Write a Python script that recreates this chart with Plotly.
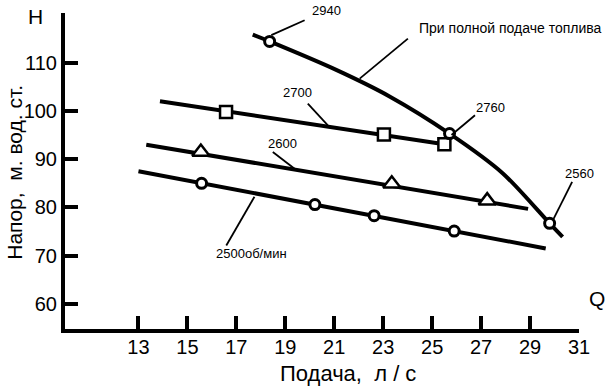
import plotly.graph_objects as go

# ---- data ----
q_2500_line = [13.0, 29.64]
h_2500_line = [87.5, 71.5]
q_2500_pts = [15.58, 20.21, 22.63, 25.9]
h_2500_pts = [85.0, 80.6, 78.3, 75.1]

q_2600_line = [13.32, 28.92]
h_2600_line = [93.0, 79.7]
q_2600_pts = [15.55, 23.35, 27.25]
h_2600_pts = [91.5, 84.9, 81.4]

q_2700_line = [13.88, 25.5]
h_2700_line = [102.0, 93.1]
q_2700_pts = [16.58, 23.03, 25.5]
h_2700_pts = [99.8, 95.1, 93.1]

q_full = [17.67, 18.36, 21.08, 23.26, 25.71, 27.88, 29.8, 30.33]
h_full = [115.8, 114.4, 108.5, 103.0, 95.3, 87.1, 76.7, 73.9]
q_full_pts = [18.36, 25.71, 29.8]
h_full_pts = [114.4, 95.3, 76.7]

x_ticks = [13, 15, 17, 19, 21, 23, 25, 27, 29, 31]
y_ticks = [60, 70, 80, 90, 100, 110]

label_text = ["2940", "При полной подаче топлива", "2700", "2760", "2600", "2560", "2500об/мин"]
label_x = [20.69, 28.19, 19.51, 27.38, 18.90, 31.04, 17.64]
label_y = [120.9, 117.2, 103.9, 100.7, 93.2, 87.1, 70.5]
lead_x0 = [19.79, 24.01, 19.92, 26.75, 18.49, 30.72, 16.59]
lead_y0 = [118.8, 115.0, 101.5, 99.1, 91.5, 85.3, 72.1]
lead_x1 = [18.43, 22.04, 20.74, 25.79, 19.38, 29.93, 17.74]
lead_y1 = [115.7, 106.7, 97.0, 95.0, 88.0, 77.3, 82.2]

X_RANGE = [10.0, 31.0]
Y_RANGE = [54.8, 120.3]

# ---- styling ----
FONT = "Liberation Sans, Arial, sans-serif"
LW = 4


def px(x):
    return (x - X_RANGE[0]) / (X_RANGE[1] - X_RANGE[0])


def py(y):
    return (y - Y_RANGE[0]) / (Y_RANGE[1] - Y_RANGE[0])


fig = go.Figure()


def add_line(x, y, shape="linear"):
    fig.add_trace(go.Scatter(x=x, y=y, mode="lines",
                             line=dict(color="black", width=LW, shape=shape, smoothing=0.8),
                             hoverinfo="skip", showlegend=False))


def add_marks(x, y, symbol, size, lw=2.5):
    fig.add_trace(go.Scatter(x=x, y=y, mode="markers",
                             marker=dict(symbol=symbol, size=size, color="white",
                                         line=dict(color="black", width=lw)),
                             hoverinfo="skip", showlegend=False))


def add_text(x, y, text, size, angle=0):
    fig.add_annotation(x=px(x), y=py(y), xref="paper", yref="paper", text=text,
                       showarrow=False, xanchor="center", yanchor="middle",
                       textangle=angle, font=dict(family=FONT, size=size, color="black"))


add_line(q_2500_line, h_2500_line)
add_line(q_2600_line, h_2600_line)
add_line(q_2700_line, h_2700_line)
add_line(q_full, h_full, shape="spline")

add_marks(q_2500_pts, h_2500_pts, "circle", 10, 3)
add_marks(q_2600_pts, h_2600_pts, "triangle-up", 15)
add_marks(q_2700_pts, h_2700_pts, "square", 12)
add_marks(q_full_pts, h_full_pts, "circle", 10, 3)

for t, lx, ly, x0, y0, x1, y1 in zip(label_text, label_x, label_y, lead_x0, lead_y0, lead_x1, lead_y1):
    fig.add_shape(type="line", xref="x", yref="y", x0=x0, y0=y0, x1=x1, y1=y1,
                  line=dict(color="black", width=1.8))
    add_text(lx, ly, t, 14 if len(t) > 12 else 13)

add_text(8.81, 119.5, "H", 21)
add_text(31.72, 61.1, "Q", 21)
add_text(7.94, 87.3, "Напор,  м. вод. ст.", 21, angle=-90)
add_text(21.57, 45.6, "Подача,  л / с", 22)

fig.update_xaxes(range=X_RANGE, tickvals=x_ticks, ticks="inside", ticklen=13,
                 tickwidth=3.5, tickcolor="black", showline=True, linewidth=LW,
                 linecolor="black", showgrid=False, zeroline=False,
                 ticklabelstandoff=-3,
                 tickfont=dict(family=FONT, size=20, color="black"))
fig.update_yaxes(range=Y_RANGE, tickvals=y_ticks, ticks="inside", ticklen=13,
                 tickwidth=3.5, tickcolor="black", showline=True, linewidth=LW,
                 linecolor="black", showgrid=False, zeroline=False,
                 tickfont=dict(family=FONT, size=20, color="black"))

fig.update_layout(width=610, height=387, margin=dict(l=65, r=31, t=13, b=58),
                  paper_bgcolor="white", plot_bgcolor="white", showlegend=False)

fig.write_html("out.html", config={"displayModeBar": False},
               post_script="document.body.style.margin='0';document.body.style.overflow='hidden';")
